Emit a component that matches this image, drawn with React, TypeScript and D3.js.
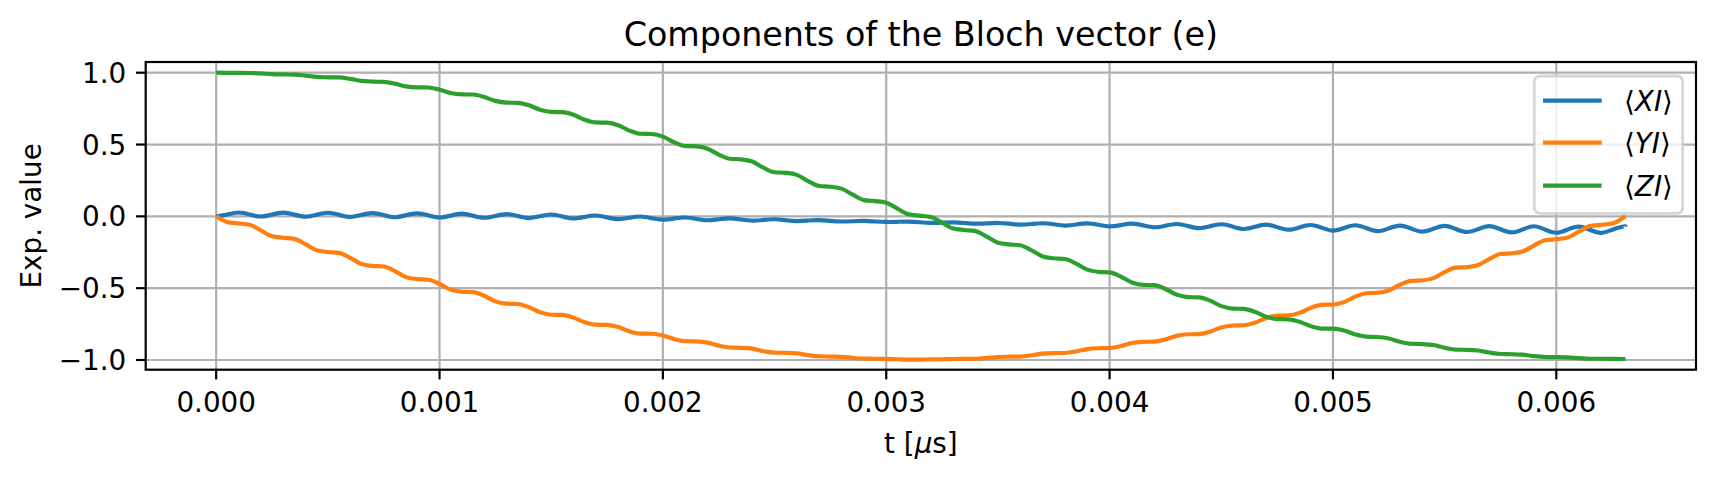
import { useMemo } from 'react';
import * as d3 from 'd3';

// --- Data ---
const times = [
    0, 0.00005, 0.0001, 0.00015, 0.0002, 0.00025, 0.0003, 0.00035, 0.0004, 0.00045,
    0.0005, 0.00055, 0.0006, 0.00065, 0.0007, 0.00075, 0.0008, 0.00085, 0.0009, 0.00095,
    0.001, 0.00105, 0.0011, 0.00115, 0.0012, 0.00125, 0.0013, 0.00135, 0.0014, 0.00145,
    0.0015, 0.00155, 0.0016, 0.00165, 0.0017, 0.00175, 0.0018, 0.00185, 0.0019, 0.00195,
    0.002, 0.00205, 0.0021, 0.00215, 0.0022, 0.00225, 0.0023, 0.00235, 0.0024, 0.00245,
    0.0025, 0.00255, 0.0026, 0.00265, 0.0027, 0.00275, 0.0028, 0.00285, 0.0029, 0.00295,
    0.003, 0.00305, 0.0031, 0.00315, 0.0032, 0.00325, 0.0033, 0.00335, 0.0034, 0.00345,
    0.0035, 0.00355, 0.0036, 0.00365, 0.0037, 0.00375, 0.0038, 0.00385, 0.0039, 0.00395,
    0.004, 0.00405, 0.0041, 0.00415, 0.0042, 0.00425, 0.0043, 0.00435, 0.0044, 0.00445,
    0.0045, 0.00455, 0.0046, 0.00465, 0.0047, 0.00475, 0.0048, 0.00485, 0.0049, 0.00495,
    0.005, 0.00505, 0.0051, 0.00515, 0.0052, 0.00525, 0.0053, 0.00535, 0.0054, 0.00545,
    0.0055, 0.00555, 0.0056, 0.00565, 0.0057, 0.00575, 0.0058, 0.00585, 0.0059, 0.00595,
    0.006, 0.00605, 0.0061, 0.00615, 0.0062, 0.00625, 0.0063, 0.00631
];

const xiValues = [
    0.000, 0.013, 0.027, 0.013, -0.001, 0.012, 0.026, 0.012, -0.002, 0.011,
    0.025, 0.011, -0.004, 0.010, 0.023, 0.009, -0.006, 0.008, 0.021, 0.007,
    -0.008, 0.005, 0.019, 0.004, -0.010, 0.003, 0.016, 0.002, -0.012, 0.001,
    0.013, -0.001, -0.015, -0.004, 0.006, -0.007, -0.019, -0.010, -0.001, -0.013,
    -0.023, -0.015, -0.008, -0.018, -0.027, -0.020, -0.014, -0.022, -0.030, -0.025,
    -0.020, -0.027, -0.033, -0.029, -0.026, -0.032, -0.036, -0.034, -0.032, -0.036,
    -0.039, -0.038, -0.037, -0.041, -0.045, -0.044, -0.042, -0.046, -0.051, -0.049,
    -0.046, -0.051, -0.057, -0.053, -0.048, -0.055, -0.064, -0.057, -0.049, -0.059,
    -0.070, -0.061, -0.051, -0.063, -0.076, -0.065, -0.053, -0.067, -0.082, -0.069,
    -0.055, -0.071, -0.088, -0.073, -0.057, -0.075, -0.093, -0.077, -0.060, -0.079,
    -0.099, -0.081, -0.062, -0.082, -0.103, -0.084, -0.064, -0.085, -0.106, -0.086,
    -0.066, -0.088, -0.109, -0.089, -0.068, -0.090, -0.112, -0.091, -0.069, -0.092,
    -0.114, -0.092, -0.071, -0.093, -0.115, -0.093, -0.071, -0.072
];

const yiValues = [
    0.000, -0.040, -0.049, -0.058, -0.098, -0.139, -0.149, -0.157, -0.194, -0.236,
    -0.248, -0.254, -0.289, -0.331, -0.345, -0.349, -0.381, -0.423, -0.437, -0.441,
    -0.470, -0.510, -0.525, -0.528, -0.553, -0.592, -0.608, -0.610, -0.632, -0.668,
    -0.685, -0.686, -0.705, -0.737, -0.754, -0.756, -0.771, -0.800, -0.816, -0.817,
    -0.829, -0.854, -0.869, -0.870, -0.879, -0.900, -0.913, -0.915, -0.921, -0.938,
    -0.949, -0.950, -0.954, -0.966, -0.974, -0.976, -0.978, -0.985, -0.990, -0.991,
    -0.992, -0.995, -0.997, -0.997, -0.996, -0.995, -0.993, -0.992, -0.991, -0.986,
    -0.979, -0.977, -0.976, -0.967, -0.956, -0.952, -0.951, -0.940, -0.924, -0.918,
    -0.916, -0.903, -0.882, -0.874, -0.872, -0.857, -0.832, -0.821, -0.820, -0.803,
    -0.774, -0.760, -0.758, -0.741, -0.709, -0.691, -0.689, -0.672, -0.637, -0.616,
    -0.614, -0.597, -0.559, -0.535, -0.532, -0.516, -0.476, -0.449, -0.445, -0.430,
    -0.388, -0.357, -0.353, -0.339, -0.297, -0.262, -0.257, -0.244, -0.203, -0.166,
    -0.159, -0.148, -0.107, -0.068, -0.059, -0.050, -0.010, 0.000
];

const ziValues = [
    1.000, 0.999, 0.999, 0.998, 0.995, 0.990, 0.988, 0.987, 0.980, 0.971,
    0.968, 0.967, 0.957, 0.943, 0.938, 0.936, 0.924, 0.905, 0.898, 0.897,
    0.882, 0.859, 0.849, 0.848, 0.831, 0.804, 0.792, 0.790, 0.773, 0.742,
    0.727, 0.725, 0.707, 0.673, 0.654, 0.652, 0.634, 0.597, 0.575, 0.573,
    0.555, 0.516, 0.490, 0.487, 0.471, 0.430, 0.401, 0.397, 0.382, 0.339,
    0.307, 0.303, 0.289, 0.246, 0.211, 0.206, 0.193, 0.151, 0.113, 0.106,
    0.095, 0.054, 0.014, 0.005, -0.004, -0.044, -0.085, -0.095, -0.103, -0.141,
    -0.183, -0.195, -0.201, -0.236, -0.279, -0.292, -0.297, -0.329, -0.371, -0.386,
    -0.390, -0.419, -0.461, -0.477, -0.479, -0.506, -0.545, -0.562, -0.564, -0.587,
    -0.625, -0.642, -0.644, -0.664, -0.698, -0.715, -0.717, -0.733, -0.764, -0.781,
    -0.782, -0.795, -0.822, -0.838, -0.840, -0.850, -0.873, -0.887, -0.889, -0.896,
    -0.915, -0.928, -0.929, -0.934, -0.948, -0.958, -0.960, -0.963, -0.973, -0.979,
    -0.980, -0.982, -0.987, -0.991, -0.991, -0.992, -0.993, -0.993
];

const seriesLabels = ['XI', 'YI', 'ZI'];
const seriesColors = ['#1f77b4', '#ff7f0e', '#2ca02c'];
const xTicks = [0, 0.001, 0.002, 0.003, 0.004, 0.005, 0.006];
const yTicks = [-1, -0.5, 0, 0.5, 1];

// --- Layout (matplotlib @200dpi look) ---
const W = 1716;
const H = 481;
const plot = { left: 145.7, right: 1696, top: 62, bottom: 369.7 };
const FONT = '"DejaVu Sans", Verdana, sans-serif';
const TICK_FS = 27.8;
const TITLE_FS = 33.3;
const LW = 4.17;
const THIN = 2.2;
const TICK_LEN = 9.7;

const fmtX = d3.format('.3f');
const fmtY = (v: number) => d3.format('.1f')(v).replace('-', '\u2212');

export default function App() {
    const { xScale, yScale, paths } = useMemo(() => {
        const tMax = times[times.length - 1];
        const xScale = d3.scaleLinear()
            .domain([-0.05 * tMax, 1.05 * tMax])
            .range([plot.left, plot.right]);
        const yScale = d3.scaleLinear()
            .domain([-1.0675, 1.0745])
            .range([plot.bottom, plot.top]);

        // staircase curves: keep monotone pieces flat, no overshoot
        const line = d3.line<number>()
            .x((_, i) => xScale(times[i]))
            .y(d => yScale(d))
            .curve(d3.curveMonotoneX);
        // the small <XI> ripple is close to a sine, a natural spline reads best
        const wave = d3.line<number>()
            .x((_, i) => xScale(times[i]))
            .y(d => yScale(d))
            .curve(d3.curveNatural);

        const paths = [wave(xiValues), line(yiValues), line(ziValues)];
        return { xScale, yScale, paths };
    }, []);

    const cx = (plot.left + plot.right) / 2;
    const cy = (plot.top + plot.bottom) / 2;

    // legend box
    const lg = { x: 1534.3, y: 76, w: 148.4, h: 137.3 };
    const lgRows = [100.7, 142.7, 185.7];

    return (
        <svg
            width={W}
            height={H}
            style={{ position: 'absolute', left: 0, top: 0, background: '#fff' }}
            fontFamily={FONT}
        >
            <defs>
                <clipPath id="plotClip">
                    <rect x={plot.left} y={plot.top} width={plot.right - plot.left} height={plot.bottom - plot.top} />
                </clipPath>
            </defs>
            <rect x={0} y={0} width={W} height={H} fill="#fff" />

            {/* grid */}
            <g stroke="#b0b0b0" strokeWidth={THIN}>
                {xTicks.map(t => (
                    <line key={'gx' + t} x1={xScale(t)} x2={xScale(t)} y1={plot.top} y2={plot.bottom} />
                ))}
                {yTicks.map(v => (
                    <line key={'gy' + v} x1={plot.left} x2={plot.right} y1={yScale(v)} y2={yScale(v)} />
                ))}
            </g>

            {/* series */}
            <g clipPath="url(#plotClip)" fill="none" strokeWidth={LW} strokeLinejoin="round" strokeLinecap="butt">
                {paths.map((p, i) => (
                    <path key={i} d={p ?? ''} stroke={seriesColors[i]} />
                ))}
            </g>

            {/* spines */}
            <rect
                x={plot.left}
                y={plot.top}
                width={plot.right - plot.left}
                height={plot.bottom - plot.top}
                fill="none"
                stroke="#000"
                strokeWidth={THIN}
            />

            {/* x ticks */}
            <g>
                {xTicks.map(t => (
                    <g key={'tx' + t}>
                        <line x1={xScale(t)} x2={xScale(t)} y1={plot.bottom} y2={plot.bottom + TICK_LEN} stroke="#000" strokeWidth={THIN} />
                        <text x={xScale(t)} y={411.7} fontSize={TICK_FS} textAnchor="middle" fill="#000">
                            {fmtX(t)}
                        </text>
                    </g>
                ))}
            </g>

            {/* y ticks */}
            <g>
                {yTicks.map(v => (
                    <g key={'ty' + v}>
                        <line x1={plot.left - TICK_LEN} x2={plot.left} y1={yScale(v)} y2={yScale(v)} stroke="#000" strokeWidth={THIN} />
                        <text x={plot.left - TICK_LEN - 9.7} y={yScale(v) + 10.1} fontSize={TICK_FS} textAnchor="end" fill="#000">
                            {fmtY(v)}
                        </text>
                    </g>
                ))}
            </g>

            {/* title & axis labels */}
            <text x={cx} y={45.5} fontSize={TITLE_FS} textAnchor="middle" fill="#000">
                Components of the Bloch vector (e)
            </text>
            <text x={cx} y={452.5} fontSize={TICK_FS} textAnchor="middle" fill="#000">
                t [<tspan fontStyle="italic">μ</tspan>s]
            </text>
            <text
                transform={`translate(41.4, ${cy}) rotate(-90)`}
                fontSize={TICK_FS}
                textAnchor="middle"
                fill="#000"
            >
                Exp. value
            </text>

            {/* legend */}
            <g>
                <rect
                    x={lg.x}
                    y={lg.y}
                    width={lg.w}
                    height={lg.h}
                    rx={5.6}
                    ry={5.6}
                    fill="#fff"
                    fillOpacity={0.8}
                    stroke="#cccccc"
                    strokeOpacity={0.8}
                    strokeWidth={2.78}
                />
                {seriesLabels.map((name, i) => (
                    <g key={name}>
                        <line x1={1543} x2={1601.7} y1={lgRows[i]} y2={lgRows[i]} stroke={seriesColors[i]} strokeWidth={LW} />
                        <text x={1624} y={lgRows[i] + 10.1} fontSize={TICK_FS} fill="#000">
                            ⟨<tspan fontStyle="italic">{name}</tspan>⟩
                        </text>
                    </g>
                ))}
            </g>
        </svg>
    );
}
